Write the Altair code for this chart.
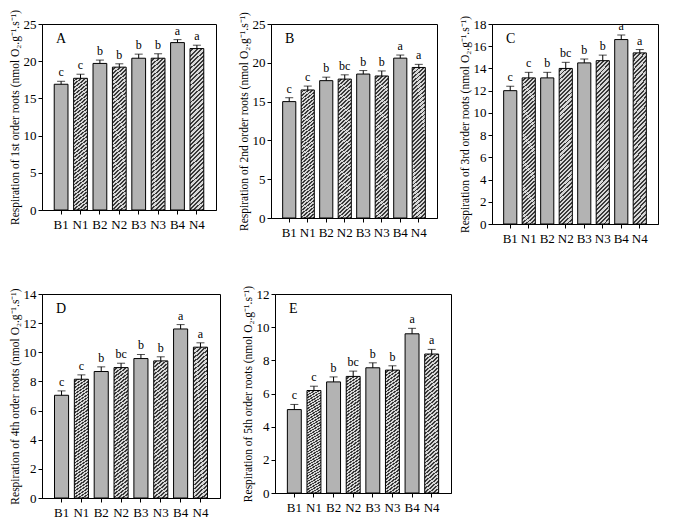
import altair as alt
import pandas as pd

groups = ["B1", "N1", "B2", "N2", "B3", "N3", "B4", "N4"]
kinds = ["B", "N", "B", "N", "B", "N", "B", "N"]

a_vals = [16.9, 17.7, 19.7, 19.2, 20.4, 20.4, 22.5, 21.7]
a_err = [0.4, 0.55, 0.45, 0.45, 0.55, 0.6, 0.4, 0.45]
a_let = ["c", "c", "b", "b", "b", "b", "a", "a"]

b_vals = [15.0, 16.5, 17.7, 17.9, 18.55, 18.3, 20.6, 19.4]
b_err = [0.5, 0.5, 0.45, 0.55, 0.45, 0.65, 0.4, 0.4]
b_let = ["c", "c", "b", "bc", "b", "b", "a", "a"]

c_vals = [12.0, 13.15, 13.15, 14.0, 14.5, 14.7, 16.6, 15.4]
c_err = [0.4, 0.5, 0.5, 0.55, 0.35, 0.5, 0.4, 0.3]
c_let = ["c", "c", "b", "bc", "b", "b", "a", "a"]

d_vals = [7.05, 8.15, 8.68, 8.95, 9.57, 9.41, 11.6, 10.35]
d_err = [0.3, 0.3, 0.32, 0.3, 0.28, 0.28, 0.3, 0.3]
d_let = ["c", "c", "b", "bc", "b", "b", "a", "a"]

e_vals = [5.03, 6.18, 6.7, 7.03, 7.55, 7.41, 9.6, 8.38]
e_err = [0.31, 0.26, 0.3, 0.32, 0.3, 0.26, 0.33, 0.28]
e_let = ["c", "c", "b", "bc", "b", "b", "a", "a"]

SERIF = "Liberation Serif"
SOLID = "#b3b3b3"

# diagonal hatch imitated with a hard-stop linear gradient
N_STRIPES = 42
stops = []
for i in range(N_STRIPES):
    stops.append({"offset": i / N_STRIPES, "color": "#d8d8d8"})
    stops.append({"offset": (i + 0.55) / N_STRIPES, "color": "#d8d8d8"})
    stops.append({"offset": (i + 0.55) / N_STRIPES, "color": "#3a3a3a"})
    stops.append({"offset": (i + 1) / N_STRIPES, "color": "#3a3a3a"})
HATCH = {"gradient": "linear", "x1": 0, "y1": 0, "x2": 0.09, "y2": 1.1, "stops": stops}


def panel(vals, errs, lets, label, ymax, ystep, ytitle, w, h):
    df = pd.DataFrame({
        "g": groups, "k": kinds, "v": vals,
        "top": [v + e for v, e in zip(vals, errs)], "let": lets,
    })
    scale_x = alt.Scale(paddingInner=0.29, paddingOuter=0.63)
    scale_y = alt.Scale(domain=[0, ymax], nice=False)
    yaxis = alt.Axis(values=list(range(0, ymax + 1, ystep)), titlePadding=3,
                     labelOverlap=False, labelFlush=False)
    xaxis = alt.Axis(labelAngle=0, labelPadding=4)
    x = alt.X("g:N", sort=groups, title=None, scale=scale_x, axis=xaxis)
    yv = alt.Y("v:Q", title=ytitle, scale=scale_y, axis=yaxis)
    yt = alt.Y("top:Q", title=ytitle, scale=scale_y, axis=yaxis)
    base = alt.Chart(df)
    solid = base.transform_filter("datum.k == 'B'").mark_bar(
        fill=SOLID, stroke="black", strokeWidth=1).encode(x=x, y=yv)
    hatch = base.transform_filter("datum.k == 'N'").mark_bar(
        fill=HATCH, stroke="black", strokeWidth=1).encode(x=x, y=yv)
    rule = base.mark_rule(color="black", strokeWidth=1).encode(
        x=x, y=yv, y2="top:Q")
    cap = base.mark_tick(color="black", thickness=1, size=8).encode(x=x, y=yt)
    txt = base.mark_text(font=SERIF, fontSize=12, baseline="bottom", dy=-2,
                         color="black").encode(x=x, y=yt, text="let:N")
    lab = alt.Chart(pd.DataFrame({"t": [label]})).mark_text(
        font=SERIF, fontSize=14, align="left", baseline="middle", color="black"
    ).encode(x=alt.value(14), y=alt.value(15), text="t:N")
    return alt.layer(solid, hatch, rule, cap, txt, lab).properties(width=w, height=h)


tt = "Respiration of {} order roots (nmol O₂.g⁻¹.s⁻¹)"
pA = panel(a_vals, a_err, a_let, "A", 25, 5, tt.format("1st"), 174, 186)
pB = panel(b_vals, b_err, b_let, "B", 25, 5, tt.format("2nd"), 166, 194)
pC = panel(c_vals, c_err, c_let, "C", 18, 2, tt.format("3rd"), 166, 200)
pD = panel(d_vals, d_err, d_let, "D", 14, 2, tt.format("4th"), 178, 204)
pE = panel(e_vals, e_err, e_let, "E", 12, 2, tt.format("5th"), 176, 199)

top = alt.hconcat(pA, pB, pC, spacing=20)
bottom = alt.hconcat(pD, pE, spacing=20)

chart = alt.vconcat(top, bottom, spacing=38).properties(padding=0).configure_view(
    stroke="black", strokeWidth=1
).configure_axis(
    labelFont=SERIF, titleFont=SERIF, labelFontSize=13, titleFontSize=11.5,
    titleFontWeight="normal", labelColor="black", titleColor="black",
    domainColor="black", tickColor="black", grid=False, tickSize=4,
)

chart.save("out.html", embed_options={"renderer": "svg", "actions": False})
